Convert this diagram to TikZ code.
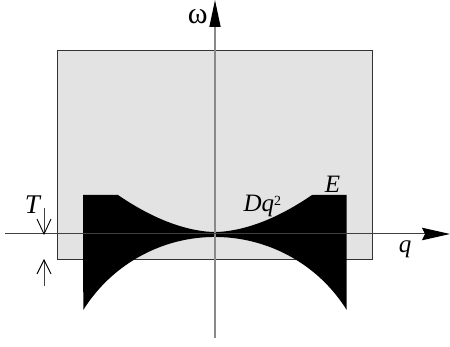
\documentclass[tikz,border=0pt]{standalone}
\usepackage{fontspec}
\setmainfont{Liberation Serif}
\usetikzlibrary{arrows.meta}
\definecolor{boxfill}{HTML}{E3E3E3}
\definecolor{boxline}{HTML}{333333}
\definecolor{vaxis}{HTML}{8A8A8A}
\definecolor{haxis}{HTML}{404040}
\tikzset{
  lbl/.style={inner sep=0pt, anchor=base, font=\fontsize{25}{25}\selectfont},
  dimline/.style={draw=haxis, line width=1pt},
  barb/.style={draw=black, line width=0.9pt},
}
\begin{document}
\begin{tikzpicture}[x=1pt,y=1pt]
\useasboundingbox (0,0) rectangle (450,347);
% gray box
\filldraw[fill=boxfill, draw=boxline, line width=1pt] (57.3,87) rectangle (372.7,296.3);
% black region
\fill[black] (83,152) -- (117.5,152)
  -- plot[domain=-97.5:97, samples=80] ({215+\x},{115+37*pow(abs(\x)/97,1.8)})
  -- (346.7,152) -- (346.7,37)
  arc[start angle=32, end angle=148, radius=155.3] -- cycle;
% axes
\coordinate (vb) at (215,9);
\coordinate (vt) at (215,347);
\coordinate (hl) at (5,113);
\coordinate (hr) at (450,113);
\draw[draw=vaxis, line width=1.5pt, -{Triangle[length=27pt,width=11pt,color=black]}] (vb) -- (vt);
\draw[draw=haxis, line width=1pt, -{Stealth[length=28pt,width=12.5pt,inset=3pt,color=black]}] (hl) -- (hr);
% T dimension
\coordinate (t1s) at (44,139);
\coordinate (t1e) at (44,113);
\coordinate (t2s) at (44,61);
\coordinate (t2e) at (44,87);
\draw[dimline] (t1s) -- (t1e);
\draw[dimline] (t2s) -- (t2e);
\draw[barb] ([shift={(-7,15)}]t1e) -- (t1e) -- ([shift={(7,15)}]t1e);
\draw[barb] ([shift={(-7,-14)}]t2e) -- (t2e) -- ([shift={(7,-14)}]t2e);
% labels
\node[lbl] (om) at (197.7,323) {\fontsize{30}{30}\selectfont ω};
\node[lbl] (lE) at (332.5,154.7) {\itshape E};
\node[lbl] (lT) at (32.5,133) {\fontsize{27}{27}\selectfont\itshape T};
\node[lbl, anchor=base west] (lD) at (243.3,135.3) {\itshape Dq\raisebox{6pt}{\upshape\fontsize{14}{14}\selectfont 2}};
\node[lbl] (lq) at (405,94) {\itshape q};
\end{tikzpicture}
\end{document}
